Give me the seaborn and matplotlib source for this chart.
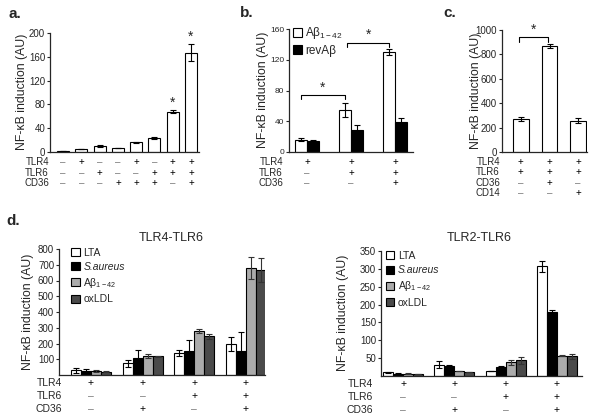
import numpy as np
import pandas as pd
import matplotlib
matplotlib.use('Agg')
import matplotlib.pyplot as plt
import seaborn as sns
from matplotlib.patches import Patch

# ---- panel a: single transfections ----
a_vals = [2, 5, 10, 7, 16, 24, 68, 167]
a_err = [0.5, 0.5, 1, 0.5, 0.5, 1.5, 2, 14]
a_tlr4 = ['-', '+', '-', '-', '+', '-', '+', '+']
a_tlr6 = ['-', '-', '+', '-', '-', '+', '+', '+']
a_cd36 = ['-', '-', '-', '+', '+', '+', '-', '+']
a_stars = [6, 7]

# ---- panel b: Abeta vs reverse peptide ----
b_groups = ['g1', 'g2', 'g3']
b_abeta = [16, 55, 130]
b_abeta_err = [2, 9, 4]
b_rev = [14, 29, 39]
b_rev_err = [1, 6, 5]
b_tlr4 = ['+', '+', '+']
b_tlr6 = ['-', '+', '+']
b_cd36 = ['-', '-', '+']

# ---- panel c: CD36 vs CD14 ----
c_vals = [270, 870, 255]
c_err = [15, 15, 20]
c_tlr4 = ['+', '+', '+']
c_tlr6 = ['+', '+', '+']
c_cd36 = ['-', '+', '-']
c_cd14 = ['-', '-', '+']

# ---- panel d ----
d_groups = ['g1', 'g2', 'g3', 'g4']
d_series = ['LTA', 'S.aureus', 'Abeta', 'oxLDL']
d_tlr4 = ['+', '+', '+', '+']
d_tlr6 = ['-', '-', '+', '+']
d_cd36 = ['-', '+', '-', '+']

d46_lta = [30, 75, 138, 195]
d46_lta_err = [15, 22, 20, 45]
d46_sa = [28, 110, 155, 155]
d46_sa_err = [12, 50, 70, 115]
d46_ab = [25, 122, 280, 680]
d46_ab_err = [5, 12, 12, 70]
d46_ox = [22, 118, 245, 665]
d46_ox_err = [3, 5, 18, 75]

d26_lta = [10, 32, 14, 307]
d26_lta_err = [1, 9, 1, 15]
d26_sa = [7, 28, 25, 178]
d26_sa_err = [1, 2, 3, 7]
d26_ab = [7, 14, 38, 57]
d26_ab_err = [1, 1, 7, 2]
d26_ox = [6, 11, 44, 55]
d26_ox_err = [1, 1, 9, 8]

sns.set_style('ticks')
plt.rcParams['font.family'] = ['Liberation Sans', 'DejaVu Sans']
plt.rcParams['mathtext.fontset'] = 'custom'
plt.rcParams['mathtext.rm'] = 'Liberation Sans'
plt.rcParams['mathtext.it'] = 'Liberation Sans:italic'

W, H = 600, 416
fig = plt.figure(figsize=(W / 100, H / 100), dpi=100)


def px_axes(l, r, t, b):
    return fig.add_axes([l / W, 1 - b / H, (r - l) / W, (b - t) / H])


def style_axes(ax, ticks, ylim, xlim, fs):
    sns.despine(ax=ax)
    ax.set_ylim(*ylim)
    ax.set_xlim(*xlim)
    ax.set_yticks(ticks)
    ax.tick_params(axis='y', direction='out', length=2.5, width=0.8, pad=1, labelsize=fs)
    ax.tick_params(axis='x', length=0, labelbottom=False)
    ax.set_xlabel('')
    ax.set_ylabel('')
    for s in ['left', 'bottom']:
        ax.spines[s].set_linewidth(0.9)


def pm_rows(ax, names, rows, offsets, label_dx, fs):
    for name, row, off in zip(names, rows, offsets):
        ax.annotate(name, xy=(0, 0), xycoords='axes fraction', xytext=(label_dx, -off),
                    textcoords='offset pixels', ha='right', va='center', fontsize=fs)
        for i, s in enumerate(row):
            ax.annotate('+' if s == '+' else '\u2013', xy=(i, 0), xycoords=('data', 'axes fraction'),
                        xytext=(0, -off), textcoords='offset pixels', ha='center', va='center',
                        fontsize=fs, color='black' if s == '+' else '#777777', annotation_clip=False)


def hue_bars(ax, groups, names, values, errs, colors, ecolors, width, capsize):
    df = pd.DataFrame({
        'cond': [g for _ in names for g in groups],
        'series': [n for n in names for _ in groups],
        'val': [v for vals in values for v in vals],
    })
    sns.barplot(data=df, x='cond', y='val', hue='series', order=groups, hue_order=names,
                palette=dict(zip(names, colors)), edgecolor='black', linewidth=0.8,
                width=width, errorbar=None, saturation=1, legend=False, ax=ax)
    for cont, err, ec in zip(ax.containers, errs, ecolors):
        xs = [p.get_x() + p.get_width() / 2 for p in cont]
        hs = [p.get_height() for p in cont]
        ax.errorbar(xs, hs, yerr=err, fmt='none', ecolor=ec, elinewidth=0.8,
                    capsize=capsize, capthick=0.8)


def bracket(ax, x1, x2, y, drop, star_y):
    ax.plot([x1, x1, x2, x2], [y - drop, y, y, y - drop], color='black', lw=0.8)
    ax.text((x1 + x2) / 2, star_y, '*', ha='center', va='center', fontsize=10)


def bar_center(p):
    return p.get_x() + p.get_width() / 2


# ---------- a ----------
ax = px_axes(50, 199, 33, 152)
xa = [str(i) for i in range(len(a_vals))]
sns.barplot(x=xa, y=a_vals, color='white', edgecolor='black', linewidth=0.8, width=0.66,
            saturation=1, errorbar=None, ax=ax)
ax.errorbar(range(len(a_vals)), a_vals, yerr=a_err, fmt='none', ecolor='black',
            elinewidth=0.8, capsize=2.5, capthick=0.8)
for i in a_stars:
    ax.text(i, a_vals[i] + a_err[i] + 12, '*', ha='center', va='center', fontsize=10)
style_axes(ax, np.arange(0, 201, 40), (0, 200), (-0.72, 7.44), 7)
pm_rows(ax, ['TLR4', 'TLR6', 'CD36'], [a_tlr4, a_tlr6, a_cd36], [10, 21, 31], -1, 7)

# ---------- b ----------
ax = px_axes(289, 413, 29, 152)
hue_bars(ax, b_groups, ['Abeta', 'rev'], [b_abeta, b_rev], [b_abeta_err, b_rev_err],
         ['white', 'black'], ['black', 'black'], 0.55, 2.5)
style_axes(ax, np.arange(0, 161, 40), (0, 160), (-0.41, 2.41), 6)
pm_rows(ax, ['TLR4', 'TLR6', 'CD36'], [b_tlr4, b_tlr6, b_cd36], [10, 21, 31], -6, 7)
wb = ax.containers[0]
bracket(ax, bar_center(wb[0]), bar_center(wb[1]), 74, 5, 84)
bracket(ax, bar_center(wb[1]) + 0.05, bar_center(wb[2]), 142, 6, 152)
ax.legend(handles=[Patch(facecolor='white', edgecolor='black', lw=0.8, label='A\u03b2$_{\\mathregular{1-42}}$'),
                   Patch(facecolor='black', edgecolor='black', lw=0.8, label='revA\u03b2')],
          loc='upper left', bbox_to_anchor=(0.03, 1.03), frameon=False, fontsize=8.5,
          handlelength=0.75, handleheight=0.75, handletextpad=0.3, labelspacing=0.3,
          borderpad=0, borderaxespad=0)

# ---------- c ----------
ax = px_axes(502, 587, 30, 152)
xc = [str(i) for i in range(len(c_vals))]
sns.barplot(x=xc, y=c_vals, color='white', edgecolor='black', linewidth=0.8, width=0.55,
            saturation=1, errorbar=None, ax=ax)
ax.errorbar(range(len(c_vals)), c_vals, yerr=c_err, fmt='none', ecolor='black',
            elinewidth=0.8, capsize=2.5, capthick=0.8)
style_axes(ax, np.arange(0, 1001, 200), (0, 1000), (-0.66, 2.31), 7)
pm_rows(ax, ['TLR4', 'TLR6', 'CD36', 'CD14'], [c_tlr4, c_tlr6, c_cd36, c_cd14],
        [10, 20, 31, 41], -2, 7)
bracket(ax, -0.05, 0.95, 943, 40, 1000)

# ---------- d ----------
d_colors = ['white', 'black', '#ababab', '#4a4a4a']
d_ecolors = ['black', 'black', '#333333', '#333333']
d_labels = ['LTA', 'S.aureus', 'A\u03b2$_{\\mathregular{1-42}}$', 'oxLDL']


def d_legend(ax, anchor):
    handles = [Patch(facecolor=c, edgecolor='black', lw=0.8, label=l) for c, l in zip(d_colors, d_labels)]
    leg = ax.legend(handles=handles, loc='upper left', bbox_to_anchor=anchor, frameon=False,
                    fontsize=7.5, handlelength=0.8, handleheight=0.8, handletextpad=0.35,
                    labelspacing=0.4, borderpad=0, borderaxespad=0)
    leg.get_texts()[1].set_style('italic')


ax = px_axes(59, 265, 249, 375)
hue_bars(ax, d_groups, d_series, [d46_lta, d46_sa, d46_ab, d46_ox],
         [d46_lta_err, d46_sa_err, d46_ab_err, d46_ox_err], d_colors, d_ecolors, 0.77, 2)
style_axes(ax, np.arange(100, 801, 100), (0, 800), (-0.62, 3.37), 7)
pm_rows(ax, ['TLR4', 'TLR6', 'CD36'], [d_tlr4, d_tlr6, d_cd36], [8, 21, 34], 3, 7.5)
d_legend(ax, (0.06, 1.01))

ax = px_axes(381, 582, 251, 376)
hue_bars(ax, d_groups, d_series, [d26_lta, d26_sa, d26_ab, d26_ox],
         [d26_lta_err, d26_sa_err, d26_ab_err, d26_ox_err], d_colors, d_ecolors, 0.78, 2)
style_axes(ax, np.arange(50, 351, 50), (0, 350), (-0.43, 3.49), 7)
pm_rows(ax, ['TLR4', 'TLR6', 'CD36'], [d_tlr4, d_tlr6, d_cd36], [8, 21, 34], -8, 7.5)
d_legend(ax, (0.025, 1.0))

# ---------- figure text ----------
ylab = 'NF-\u03baB induction (AU)'
for x, y in [(22, 92), (263, 90), (476, 91), (28, 312), (343, 313)]:
    fig.text(x / W, 1 - y / H, ylab, rotation=90, ha='center', va='center', fontsize=8.8)
for x, y, s in [(15, 14, 'a.'), (247, 13, 'b.'), (450, 13, 'c.'), (13, 221, 'd.')]:
    fig.text(x / W, 1 - y / H, s, ha='center', va='center', fontsize=11, fontweight='bold')
fig.text(171 / W, 1 - 238 / H, 'TLR4-TLR6', ha='center', va='center', fontsize=9)
fig.text(479 / W, 1 - 238 / H, 'TLR2-TLR6', ha='center', va='center', fontsize=9)

fig.savefig('out.png', dpi=100)
